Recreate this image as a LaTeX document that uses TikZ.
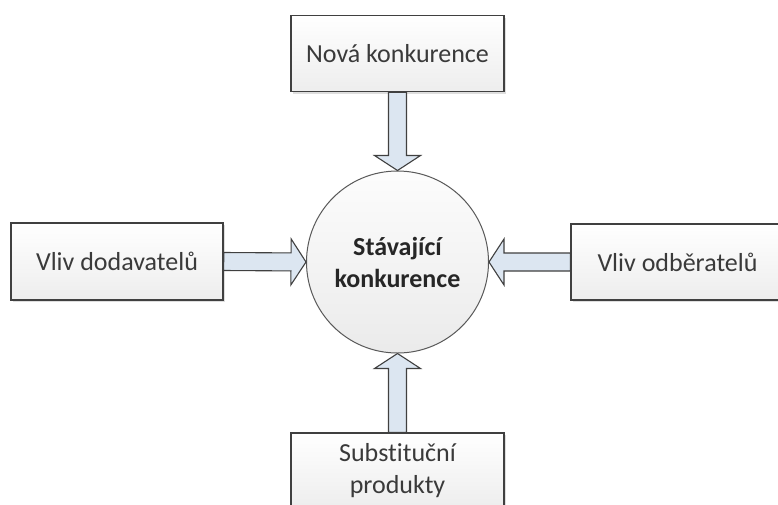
\documentclass[tikz,border=0pt]{standalone}
\usepackage{fontspec}
\setmainfont{Carlito}[Ligatures={NoCommon,NoContextual}]
\usetikzlibrary{calc,shadows}
\definecolor{txt}{HTML}{3A3A3A}
\definecolor{edge}{HTML}{404040}
\definecolor{arrfill}{HTML}{DCE6F1}
\tikzset{
  box/.style={rectangle, draw=edge, line width=1.4pt, top color=white, bottom color=black!7,
    minimum width=213pt, minimum height=76pt, inner sep=0pt, text=txt, align=center,
    font=\fontsize{26}{32}\selectfont,
    drop shadow={shadow xshift=2pt, shadow yshift=-2pt, fill=black!25, opacity=0.5}},
  core/.style={circle, draw=black!65, line width=1pt, top color=black!1, bottom color=black!8,
    minimum size=182pt, inner sep=0pt, text=black!85, align=center,
    font=\fontsize{26}{32}\selectfont\bfseries},
  fatarrow/.style={draw=edge, line width=1.1pt, fill=arrfill, line join=miter}
}
\newcommand{\fatarr}[2]{%
  \path ($(#2)!15pt!(#1)$) coordinate (hb);
  \draw[fatarrow] ($(#1)!9pt!90:(#2)$) -- ($(hb)!9pt!90:(#2)$) -- ($(hb)!23pt!90:(#2)$) -- (#2)
    -- ($(hb)!23pt!-90:(#2)$) -- ($(hb)!9pt!-90:(#2)$) -- ($(#1)!9pt!-90:(#2)$) -- cycle;}
\begin{document}
\begin{tikzpicture}[x=1pt,y=-1pt]
\useasboundingbox[fill=white] (0,0) rectangle (778,504);
\node[core] (circ) at (397.5,262) {Stávající\\konkurence};
\node[box] (top) at (397.5,53.5) {Nová konkurence};
\node[box, minimum width=212pt, minimum height=77pt] (left) at (117,261.5) {Vliv dodavatelů};
\node[box] (right) at (677.5,262) {Vliv odběratelů};
\node[box, minimum height=75pt] (bottom) at (397.5,470.5) {Substituční\\produkty};
\fatarr{top.south}{circ.north}
\fatarr{left.east}{circ.west}
\fatarr{right.west}{circ.east}
\fatarr{bottom.north}{circ.south}
\end{tikzpicture}
\end{document}
